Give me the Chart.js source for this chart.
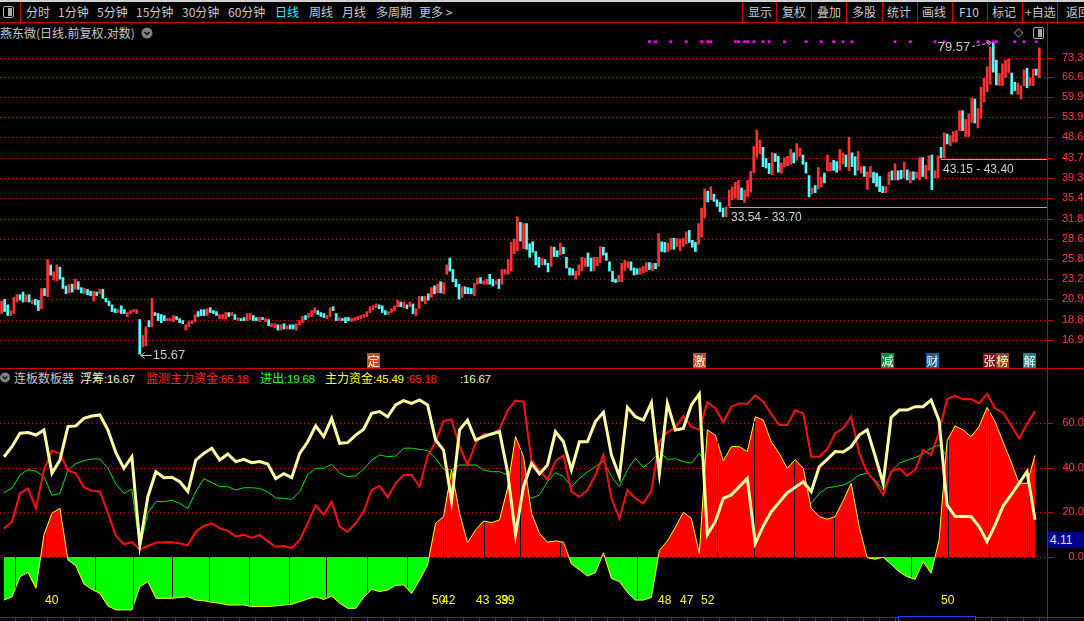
<!DOCTYPE html>
<html><head><meta charset="utf-8"><title>燕东微 日线</title>
<script src="https://cdn.jsdelivr.net/npm/chart.js@4.4.1/dist/chart.umd.min.js"></script>
<style>
html,body{margin:0;padding:0;background:#000;}
#page{position:relative;width:1084px;height:621px;overflow:hidden;background:#000;font-family:"Noto Sans CJK SC","Liberation Sans",sans-serif;font-size:12px;color:#c8c8c8;}
.t{position:absolute;white-space:nowrap;line-height:14px;}
.d{font-family:"Liberation Sans",sans-serif;font-size:11.5px;letter-spacing:-0.2px;}
.r{position:absolute;background:#c80000;}
canvas{position:absolute;left:0;}
.tag{position:absolute;top:353px;width:13px;height:15px;line-height:15px;text-align:center;color:#fff;font-size:12px;}
.num{position:absolute;top:593px;color:#ffff00;font-family:"Liberation Sans",sans-serif;font-size:12px;line-height:14px;}
</style></head><body><div id="page">

<!-- toolbar -->
<div style="position:absolute;left:0;top:0;width:1084px;height:2px;background:#d0d0d0"></div>
<div style="position:absolute;left:3px;top:6px;width:9px;height:10px;border:1px solid #a8a8a8;border-radius:2px"><div style="position:absolute;right:1px;top:1px;width:4px;height:8px;background:#a8a8a8"></div></div>
<div class="r" style="left:20px;top:2px;width:1px;height:21px"></div>
<div class="t" style="left:26px;top:5px">分时</div>
<div class="t" style="left:58px;top:5px">1分钟</div>
<div class="t" style="left:97px;top:5px">5分钟</div>
<div class="t" style="left:136px;top:5px">15分钟</div>
<div class="t" style="left:182px;top:5px">30分钟</div>
<div class="t" style="left:228px;top:5px">60分钟</div>
<div class="t" style="left:275px;top:5px;color:#3ce6ff">日线</div>
<div class="t" style="left:309px;top:5px">周线</div>
<div class="t" style="left:342px;top:5px">月线</div>
<div class="t" style="left:376px;top:5px">多周期</div>
<div class="t" style="left:419px;top:5px">更多 &gt;</div>
<div class="r" style="left:742px;top:2px;width:1px;height:21px"></div>
<div class="r" style="left:776px;top:2px;width:1px;height:21px"></div>
<div class="r" style="left:811px;top:2px;width:1px;height:21px"></div>
<div class="r" style="left:846px;top:2px;width:1px;height:21px"></div>
<div class="r" style="left:882px;top:2px;width:1px;height:21px"></div>
<div class="r" style="left:917px;top:2px;width:1px;height:21px"></div>
<div class="r" style="left:952px;top:2px;width:1px;height:21px"></div>
<div class="r" style="left:987px;top:2px;width:1px;height:21px"></div>
<div class="r" style="left:1022px;top:2px;width:1px;height:21px"></div>
<div class="r" style="left:1057px;top:2px;width:1px;height:21px"></div>
<div class="t" style="left:748px;top:5px">显示</div>
<div class="t" style="left:782px;top:5px">复权</div>
<div class="t" style="left:817px;top:5px">叠加</div>
<div class="t" style="left:852px;top:5px">多股</div>
<div class="t" style="left:887px;top:5px">统计</div>
<div class="t" style="left:922px;top:5px">画线</div>
<div class="t" style="left:959px;top:5px">F10</div>
<div class="t" style="left:992px;top:5px">标记</div>
<div class="t" style="left:1025px;top:5px">+自选</div>
<div class="t" style="left:1066px;top:5px">返回</div>
<div class="r" style="left:0;top:22px;width:1084px;height:1px"></div>

<!-- header -->
<div class="t" style="left:0;top:26px">燕东微(日线.前复权.对数)</div>
<svg style="position:absolute;left:141px;top:27px" width="12" height="12"><circle cx="6" cy="6" r="5.5" fill="#808080"/><polyline points="3.5,5 6,7.5 8.5,5" fill="none" stroke="#111" stroke-width="1.5"/></svg>
<div class="t" style="left:1014px;top:25px;color:#a8a8a8;font-family:'DejaVu Sans'">◇</div>
<div style="position:absolute;left:1033px;top:27px;width:9px;height:10px;border:1px solid #a8a8a8;border-radius:2px"><div style="position:absolute;right:1px;top:1px;width:4px;height:8px;background:#a8a8a8"></div></div>

<canvas id="cTop" width="1084" height="330" style="top:38px;width:1084px;height:330px"></canvas>

<div class="tag" style="left:367px;background:#c84a10">定</div>
<div class="tag" style="left:693px;background:#c84a10">激</div>
<div class="tag" style="left:881px;background:#0a8a3a">减</div>
<div class="tag" style="left:926px;background:#1a5fa0">财</div>
<div class="tag" style="left:983px;background:#8a1010">张</div>
<div class="tag" style="left:996px;background:#8a4a10">榜</div>
<div class="tag" style="left:1023px;background:#108a8a">解</div>

<div class="r" style="left:0;top:368px;width:1084px;height:1px"></div>

<!-- indicator legend -->
<svg style="position:absolute;left:0;top:372px" width="11" height="11"><circle cx="5" cy="5.5" r="5" fill="#808080"/><polyline points="2.8,4.5 5,6.8 7.2,4.5" fill="none" stroke="#111" stroke-width="1.4"/></svg>
<div class="t" style="left:14px;top:371px">连板数板器</div>
<div class="t" style="left:80px;top:371px;color:#f4f4c0">浮筹<span class="d">:16.67</span></div>
<div class="t" style="left:146px;top:371px;color:#ff2020">监测主力资金<span class="d">:65.18</span></div>
<div class="t" style="left:260px;top:371px;color:#20ff20">进出<span class="d">:19.68</span></div>
<div class="t" style="left:325px;top:371px;color:#ffff00">主力资金<span class="d">:45.49</span></div>
<div class="t" style="left:406px;top:371px;color:#ff2020"><span class="d">:65.18</span></div>
<div class="t" style="left:460px;top:371px;color:#f4f4c0"><span class="d">:16.67</span></div>

<canvas id="cBot" width="1084" height="232" style="top:385px;width:1084px;height:232px"></canvas>

<div class="num" style="left:45px">40</div>
<div class="num" style="left:432px">50</div>
<div class="num" style="left:442px">42</div>
<div class="num" style="left:476px">43</div>
<div class="num" style="left:495px">39</div>
<div class="num" style="left:501px">39</div>
<div class="num" style="left:658px">48</div>
<div class="num" style="left:680px">47</div>
<div class="num" style="left:701px">52</div>
<div class="num" style="left:941px">50</div>

<div style="position:absolute;left:1048px;top:532px;width:36px;height:16px;background:#00008c;color:#e0e0e0;font-family:'Liberation Sans';font-size:12px;line-height:16px;padding-left:2px">4.11</div>

<div class="r" style="left:1047px;top:23px;width:1px;height:598px"></div>
<div class="r" style="left:0;top:617px;width:1084px;height:1px"></div>
<div style="position:absolute;left:0;top:618px;width:1047px;height:3px;background:repeating-linear-gradient(90deg,transparent 0,transparent 15px,#c80000 15px,#c80000 16px)"></div>
<div style="position:absolute;left:898px;top:616px;width:76px;height:8px;border:1px solid #2a3cff;background:#000"></div>

</div>
<script>
// ---- price panel (log scale) ----
const priceTicks = [73.3, 66.6, 59.9, 53.9, 48.6, 43.7, 39.3, 35.4, 31.8, 28.6, 25.8, 23.2, 20.9, 18.8, 16.9];
const priceMin = 14.61, priceMax = 81.46;

// daily candles [open, close]
const candles = [
  [19.4,20.7],[20.9,19.6],[20.3,19.2],[19.2,19.7],[19.4,21.1],[20.6,21.4],[21.4,20.8],[21.7,20.6],[20.6,21.4],[21.4,20.6],
  [20.4,20.8],[20.9,20.3],[20.8,19.7],[19.9,22.1],[22.1,21.3],[21.2,25.7],[25.0,23.7],[23.1,24.1],[23.0,25.0],[24.7,23.2],
  [23.4,22.1],[22.4,21.5],[21.6,22.6],[22.6,21.7],[22.0,23.2],[22.9,22.0],[22.2,21.6],[21.5,22.1],[22.0,21.4],[21.8,21.3],
  [20.7,21.8],[21.7,21.3],[21.5,22.0],[22.0,21.0],[21.0,20.6],[20.7,20.2],[20.3,19.6],[19.9,19.5],[19.5,19.8],[20.2,19.4],
  [19.8,19.4],[19.1,19.5],[19.4,19.7],[19.6,19.8],[19.4,19.8],[18.8,15.7],[16.3,17.3],[16.4,18.1],[18.7,18.1],[18.1,21.0],
  [19.5,19.2],[19.4,18.7],[19.3,18.5],[19.2,18.7],[18.7,18.9],[18.7,18.9],[18.6,19.2],[19.1,18.8],[18.9,18.5],[18.7,18.4],
  [17.8,18.3],[18.1,18.6],[18.4,18.7],[18.6,19.3],[19.6,19.1],[19.8,19.2],[19.8,19.2],[19.2,19.9],[20.0,19.5],[19.7,19.4],
  [19.6,19.2],[18.9,19.3],[18.9,19.3],[18.9,19.5],[19.5,19.1],[19.2,19.5],[19.3,18.8],[18.7,19.0],[18.9,18.7],[19.0,18.7],
  [18.7,19.4],[18.8,19.4],[19.2,18.7],[19.0,18.7],[18.6,19.0],
  [19.0,18.8],[18.6,18.9],[18.8,18.2],[18.1,18.4],[18.0,18.4],[18.3,17.8],[17.8,18.3],[18.4,17.9],[17.9,18.2],[18.3,17.9],
  [18.3,17.9],[17.8,18.4],[18.3,18.7],[18.5,19.1],[19.2,18.8],[19.0,19.4],[19.1,19.7],[19.5,20.0],[19.7,19.3],[19.5,19.1],
  [19.4,19.0],[18.9,19.2],[19.1,20.0],[20.1,19.7],[19.4,18.7],[18.7,19.0],[18.9,18.7],[19.0,18.5],[19.0,18.7],[18.6,18.9],
  [18.7,19.0],[18.8,19.1],[18.9,19.2],[19.0,19.3],[19.1,19.6],[19.5,20.1],[19.8,20.2],[20.0,20.4],[20.3,19.9],[20.2,19.5],
  [19.7,19.3],[19.3,19.6],[19.5,19.9],[19.7,20.2],[20.1,20.8],[20.6,20.1],[20.0,20.6],[20.3,19.9],[20.1,20.6],[20.4,19.4],
  [19.2,19.9],[19.9,21.2],[21.2,20.7],[20.4,21.2],[21.5,20.8],[21.1,22.2],[22.4,21.5],[21.6,22.6],[22.9,21.6],[21.5,22.8],
  [23.8,25.0],[25.9,24.2],[24.4,22.9],[23.2,22.3],[22.6,20.9],[21.1,22.3],[22.3,21.5],[22.2,21.5],[22.1,21.5],[21.3,22.7],
  [22.6,23.3],[23.4,22.7],[22.6,23.0],[22.6,23.2],[23.8,22.6],[23.2,22.4],[22.6,23.0],[23.2,22.1],[22.6,24.4],[23.8,24.4],
  [23.8,25.7],[24.2,28.1],[26.5,28.6],[26.9,32.1],
  [31.2,28.3],[27.2,31.0],[31.0,27.1],[27.9,26.0],[28.2,26.7],[26.8,25.0],[26.0,24.7],[25.0,25.9],[25.7,25.0],[25.2,24.1],
  [24.8,27.5],[27.4,26.1],[26.9,26.1],[26.3,28.0],[27.4,26.5],[26.0,24.6],[24.6,23.7],[24.5,23.7],[23.2,24.2],[23.7,25.0],
  [24.2,26.0],[24.8,25.9],[26.6,24.8],[25.9,24.2],[24.3,26.0],[24.9,26.0],[25.3,27.5],[27.4,26.3],[26.6,25.6],[25.4,24.2],
  [24.2,22.9],[23.2,22.8],[22.9,23.7],[22.9,25.2],[24.3,25.6],[24.6,25.4],[25.4,24.3],[24.6,23.7],[24.5,23.8],[23.8,24.6],
  [24.0,24.8],[24.1,25.3],[25.3,24.4],[24.3,25.2],[25.2,24.5],[24.8,29.4],[28.2,26.8],[28.1,26.7],[26.8,28.0],[27.1,28.7],
  [28.7,27.1],[27.5,28.7],[26.9,28.6],[27.5,28.7],[27.9,29.7],[29.9,28.1],[28.4,27.4],[28.1,26.8],[27.8,31.0],[28.9,33.6],
  [31.9,37.1],[36.7,34.7],[35.1,37.5],[36.1,34.8],[35.1,33.9],[34.6,33.0],[33.6,32.1],[32.1,33.8],[33.9,36.9],[35.1,37.5],
  [35.4,38.4],[35.1,38.8],[37.3,35.1],[34.6,36.9],[35.6,38.8],[36.5,40.7],[40.4,46.3],[43.8,50.4],[44.6,47.9],[46.1,41.7],
  [43.5,41.4],[42.4,40.2],[40.0,44.8],[44.6,42.8],
  [44.0,40.5],[40.3,42.5],[41.7,43.7],[41.9,44.0],[42.2,45.6],[44.8,42.5],[43.1,47.0],[44.0,45.9],[44.3,42.2],[42.6,40.3],
  [39.8,35.6],[36.2,37.3],[37.8,36.4],[37.1,41.5],[37.5,39.5],[40.3,38.3],[40.8,44.3],[40.8,42.6],[43.1,40.9],[42.8,40.5],
  [40.9,45.6],[42.3,44.8],[44.3,41.7],[40.8,48.6],[44.8,41.7],[43.9,39.9],[40.9,45.1],[40.3,41.7],[41.7,39.6],[37.0,40.6],
  [39.4,41.7],[40.5,38.3],[40.3,37.6],[39.6,36.6],[37.6,36.4],[36.4,37.6],[38.0,40.5],[40.8,38.9],[38.9,42.3],[40.8,38.9],
  [40.9,39.1],[39.3,42.6],[41.0,38.9],[38.3,40.6],[40.6,38.9],[39.3,40.5],[38.9,43.7],[43.7,39.6],[39.1,42.0],[40.9,44.1],
  [44.3,37.0],[39.3,40.8],[39.3,44.1],[46.1,43.6],[43.7,49.7],[49.4,46.9],[46.5,49.0],[47.4,50.0],[47.4,50.3],[50.3,55.8],
  [55.8,50.3],[48.8,53.3],[48.8,54.9],[52.5,59.6],[59.3,52.3],[51.0,56.4],[53.6,63.0],[58.4,66.1],[61.6,70.1],[64.0,77.8],
  [79.6,68.2],[72.6,63.8],[63.6,67.7],[63.6,71.2],[66.3,72.6],[67.9,73.0],[67.9,60.8],[64.7,61.9],[60.8,64.4],[59.3,63.5],
  [63.6,69.0],[69.6,62.9],[63.6,66.3],[63.6,69.3],[69.3,67.1],[66.3,77.4]
];
const slotCount = 341;   // a few empty slots on the right

// magenta signal marks along the top
const signalIdx = [211,213,218,223,228,230,231,239,240,242,243,245,248,250,255,262,267,271,274,277,291,296,304,307,318,321,323,324,330,333,337];
const signalLevel = 79.9;

// gap lines  [start candle, price, text]
const gapStart = [237, 306];
const gapPrice = [33.70, 43.40];
const gapText = ['33.54 - 33.70', '43.15 - 43.40'];

// extreme marks
const lowIdx = 45, lowPrice = 15.67;
const highIdx = 323, highPrice = 79.57;

// ---- indicator panel ----
const indTicks = [60, 40, 20, 0];
const indMin = -26.87, indMax = 77.01;
const fuchou = [44.9,49.4,55.4,55.7,54.6,56.9,37.5,43.4,58.4,58.7,62.1,63.1,63.6,56.9,46.7,39.7,44.9,5.4,27.0,38.2,
  35.5,35.7,33.7,29.3,43.4,46.4,48.7,43.4,46.1,42.7,43.7,42.2,42.7,41.6,35.1,37.3,35.5,46.4,51.6,58.7,
  53.9,62.1,50.9,51.2,54.6,57.2,64.3,65.1,62.8,68.1,70.0,68.8,70.3,68.1,52.4,47.9,25.0,56.9,61.3,52.4,
  53.9,55.1,56.1,38.2,10.0,31.5,41.9,37.2,41.2,56.1,51.6,39.0,51.6,51.6,60.6,64.8,45.7,36.0,67.0,62.8,
  61.3,69.1,37.5,68.8,56.9,57.6,68.1,73.0,10.0,15.8,26.3,27.8,31.5,35.2,6.1,13.9,20.3,24.5,28.8,31.2,
  33.7,29.3,40.4,43.7,47.2,47.0,49.4,54.6,56.9,45.2,33.0,62.5,65.8,65.8,67.3,67.3,70.3,61.0,23.3,18.1,
  18.1,18.1,13.6,6.9,14.3,22.8,27.8,33.0,38.2,16.7];
const jiance = [12.8,15.8,28.5,30.7,21.8,39.0,47.6,46.4,38.7,37.5,31.2,29.6,29.3,19.6,9.4,5.8,6.6,3.4,4.9,6.4,
  6.6,6.6,6.1,5.2,11.3,13.9,15.1,12.8,11.8,9.1,10.0,8.5,9.9,7.0,4.6,4.9,4.0,7.6,15.1,23.1,
  19.0,24.8,13.6,11.3,15.1,20.3,30.0,31.8,26.7,33.0,36.7,36.7,31.5,45.2,51.5,60.9,61.6,49.4,41.2,50.9,
  55.1,54.6,57.2,65.5,70.0,69.6,43.4,39.0,34.5,43.0,45.4,29.3,27.0,30.0,36.7,45.7,26.3,17.3,30.0,26.3,
  24.0,29.6,51.6,55.8,57.9,63.1,58.4,56.9,69.3,66.6,60.3,67.3,68.8,68.5,72.4,69.6,64.0,59.1,59.1,65.7,
  64.3,44.9,44.9,48.2,55.4,57.6,62.8,46.4,37.9,33.7,27.8,38.2,39.7,36.4,39.0,47.9,45.7,56.0,70.7,72.2,
  70.6,70.7,68.8,73.0,66.6,64.6,59.1,53.1,59.6,65.2];
const jinchu = [28.8,30.9,36.7,39.1,38.4,36.0,27.6,28.5,39.0,41.8,43.1,43.9,43.9,39.7,32.7,28.5,30.4,3.9,19.6,24.8,
  24.8,25.4,24.0,21.8,29.3,35.1,33.3,31.5,31.5,30.0,31.0,31.0,30.7,29.1,26.4,26.3,25.7,29.3,36.9,39.7,
  39.7,41.5,37.5,36.0,36.4,39.3,43.4,45.7,44.9,45.2,48.7,48.7,48.2,47.6,44.2,39.3,39.0,41.2,41.2,41.2,
  39.0,38.2,38.2,36.7,31.5,28.2,26.3,27.8,33.7,37.8,36.0,31.5,35.2,38.1,40.4,43.0,36.0,31.5,39.0,44.2,
  40.1,43.0,47.2,43.7,44.0,42.7,42.0,46.4,40.7,34.5,35.2,36.0,36.0,36.0,34.5,34.5,33.0,31.5,30.0,28.5,
  27.0,24.0,28.5,31.0,31.5,32.2,34.0,36.7,37.5,34.5,30.0,38.2,42.0,43.4,44.5,46.1,48.7,50.1,45.0,44.0,
  44.0,43.0,42.0,42.0,40.0,38.0,35.0,30.0,27.0,19.7];
const zhuli = [-19.3,-17.8,-8.8,-6.9,-14.0,10.0,19.6,21.8,-1.3,-4.0,-12.1,-14.5,-16.3,-21.9,-23.7,-23.7,-23.7,-13.3,-11.0,-18.5,
  -18.5,-18.5,-18.1,-17.8,-19.3,-19.6,-20.3,-20.7,-21.5,-21.5,-21.5,-22.2,-22.2,-22.2,-21.9,-21.5,-21.2,-20.0,-18.8,-17.8,
  -19.0,-17.5,-20.7,-23.0,-23.0,-18.1,-14.5,-15.5,-14.8,-12.7,-12.5,-16.3,-10.3,-3.6,15.1,18.1,39.0,19.6,6.4,12.1,
  16.1,15.4,16.6,30.7,53.9,44.9,19.6,10.6,6.6,7.2,6.6,-3.1,-5.8,-8.5,-7.0,1.9,-9.6,-11.0,-15.8,-19.3,
  -19.3,-18.1,3.0,7.2,13.3,20.0,17.3,1.6,56.9,54.6,43.0,49.4,49.4,47.2,62.8,61.3,51.6,46.4,39.7,43.6,
  39.7,21.8,18.1,16.9,18.1,25.2,33.0,13.6,-0.3,-1.0,-0.1,-3.3,-6.6,-8.8,-10.0,-2.1,-7.3,7.6,52.1,58.7,
  56.9,53.9,58.4,67.0,60.6,51.5,42.7,33.0,33.0,45.5];
const indSlots = 131;
// period separators cut through the histogram (positions on the indicator x scale)
const periodMarks = [1.4, 5.1, 11.4, 16.1, 21.0, 25.7, 30.7, 35.7, 40.3, 45.4, 50.4, 54.9, 60.0, 64.6, 69.6, 79.2, 89.2, 93.9, 98.9, 103.9, 113.5, 118.1, 123.2, 128.2];

const AXIS_W = 37;

function dottedGrid(ctx, area, ys, color) {
  ctx.save();
  ctx.strokeStyle = color; ctx.lineWidth = 1; ctx.setLineDash([1, 3]);
  ys.forEach(py => { const y = Math.round(py) + 0.5; ctx.beginPath(); ctx.moveTo(area.left, y); ctx.lineTo(area.right, y); ctx.stroke(); });
  ctx.setLineDash([]); ctx.strokeStyle = '#d00000';
  ys.forEach(py => { const y = Math.round(py) + 0.5; ctx.beginPath(); ctx.moveTo(area.right, y); ctx.lineTo(area.right + 6, y); ctx.stroke(); });
  ctx.restore();
}

const priceDeco = {
  id: 'priceDeco',
  beforeDatasetsDraw(chart) {
    const { ctx, chartArea: a, scales: { x, y } } = chart;
    dottedGrid(ctx, a, priceTicks.map(v => y.getPixelForValue(v)), '#b00000');
    ctx.save();
    ctx.fillStyle = '#ff3c3c'; ctx.font = '11px "Liberation Sans"'; ctx.textBaseline = 'middle'; ctx.textAlign = 'left';
    priceTicks.forEach(v => ctx.fillText(v.toFixed(1), a.right + 15, y.getPixelForValue(v)));
    // gap lines
    ctx.strokeStyle = '#a8a8a8'; ctx.fillStyle = '#d0d0d0'; ctx.font = '12px "Liberation Sans"';
    gapStart.forEach((s, k) => {
      const px = Math.round(x.getPixelForValue(s)), py = Math.round(y.getPixelForValue(gapPrice[k])) + 0.5;
      ctx.beginPath(); ctx.moveTo(px, py); ctx.lineTo(a.right, py); ctx.stroke();
      ctx.fillText(gapText[k], px + 2, py + 10);
    });
    ctx.restore();
  },
  afterDatasetsDraw(chart) {
    const { ctx, scales: { x, y } } = chart;
    ctx.save();
    ctx.strokeStyle = '#c8c8c8'; ctx.fillStyle = '#c8c8c8'; ctx.lineWidth = 1;
    // low
    let tx = x.getPixelForValue(lowIdx) + 1, ty = Math.round(y.getPixelForValue(lowPrice)) + 0.5;
    ctx.beginPath(); ctx.moveTo(tx, ty); ctx.lineTo(tx + 11, ty);
    ctx.moveTo(tx, ty); ctx.lineTo(tx + 4, ty - 3); ctx.moveTo(tx, ty); ctx.lineTo(tx + 4, ty + 3); ctx.stroke();
    ctx.font = '13px "Liberation Sans"'; ctx.textBaseline = 'middle'; ctx.textAlign = 'left';
    ctx.fillText(lowPrice.toFixed(2), tx + 12, ty);
    // high
    tx = x.getPixelForValue(highIdx) - 1; ty = y.getPixelForValue(highPrice);
    ctx.setLineDash([3, 2]);
    ctx.beginPath(); ctx.moveTo(tx - 20, ty + 4); ctx.lineTo(tx - 1, ty); ctx.stroke();
    ctx.setLineDash([]);
    ctx.beginPath(); ctx.moveTo(tx - 1, ty); ctx.lineTo(tx - 5, ty - 2); ctx.moveTo(tx - 1, ty); ctx.lineTo(tx - 4, ty + 3); ctx.stroke();
    ctx.textAlign = 'right';
    ctx.fillText(highPrice.toFixed(2), tx - 22, ty + 5);
    ctx.restore();
  }
};

const slotLabels = Array.from({ length: slotCount }, (_, i) => i);
const candleColors = candles.map(([o, c]) => c >= o ? '#ff3232' : '#54fcfc');
const signalData = slotLabels.map(i => signalIdx.includes(i) ? signalLevel : null);

new Chart(document.getElementById('cTop'), {
  type: 'bar',
  data: {
    labels: slotLabels,
    datasets: [
      { type: 'line', data: signalData, showLine: false, pointStyle: 'rect', pointRadius: 1.9,
        pointBackgroundColor: '#ff00ff', pointBorderWidth: 0, order: 0 },
      { type: 'bar', data: candles, backgroundColor: candleColors, barThickness: 2, minBarLength: 1, order: 1 }
    ]
  },
  options: {
    responsive: false, animation: false, events: [],
    layout: { autoPadding: false, padding: { left: 0, right: AXIS_W, top: 0, bottom: 0 } },
    plugins: { legend: { display: false }, tooltip: { enabled: false } },
    scales: {
      x: { type: 'category', display: false, offset: true },
      y: { type: 'logarithmic', display: false, min: priceMin, max: priceMax }
    }
  },
  plugins: [priceDeco]
});

function histAt(v) {
  const i = Math.floor(v), f = v - i;
  const a = zhuli[i], b = zhuli[Math.min(i + 1, zhuli.length - 1)];
  return a + (b - a) * f;
}

const indDeco = {
  id: 'indDeco',
  beforeDatasetsDraw(chart) {
    const { ctx, chartArea: a, scales: { y } } = chart;
    dottedGrid(ctx, a, indTicks.map(v => y.getPixelForValue(v)), '#b00000');
    ctx.save();
    ctx.fillStyle = '#ff3c3c'; ctx.font = '11px "Liberation Sans"'; ctx.textBaseline = 'middle'; ctx.textAlign = 'right';
    indTicks.forEach(v => ctx.fillText(v.toFixed(2), 1090, y.getPixelForValue(v)));
    ctx.restore();
  },
  afterDatasetDraw(chart, args) {
    if (args.index !== 2) return;
    const { ctx, scales: { x, y } } = chart;
    ctx.save();
    ctx.strokeStyle = '#000'; ctx.lineWidth = 1;
    const y0 = y.getPixelForValue(0);
    periodMarks.forEach(v => {
      const px = Math.round(x.getPixelForValue(v)) + 0.5;
      const yv = y.getPixelForValue(histAt(v));
      ctx.beginPath(); ctx.moveTo(px, y0); ctx.lineTo(px, yv + (yv < y0 ? 1 : -1)); ctx.stroke();
    });
    ctx.restore();
  }
};

new Chart(document.getElementById('cBot'), {
  type: 'line',
  data: {
    labels: Array.from({ length: indSlots }, (_, i) => i),
    datasets: [
      { label: '浮筹', data: fuchou, borderColor: '#ffffa0', borderWidth: 3, order: 0 },
      { label: '监测主力资金', data: jiance, borderColor: '#ff1010', borderWidth: 2, order: 1 },
      { label: '主力资金', data: zhuli, borderColor: '#ffff00', borderWidth: 1, order: 2,
        fill: { target: 'origin', above: '#ff0000', below: '#00ff00' } },
      { label: '进出', data: jinchu, borderColor: '#00e000', borderWidth: 1, order: 3 }
    ]
  },
  options: {
    responsive: false, animation: false, events: [],
    layout: { autoPadding: false, padding: { left: 0, right: AXIS_W, top: 0, bottom: 0 } },
    elements: { point: { radius: 0 }, line: { tension: 0 } },
    plugins: { legend: { display: false }, tooltip: { enabled: false } },
    scales: {
      x: { type: 'category', display: false, offset: true },
      y: { display: false, min: indMin, max: indMax }
    }
  },
  plugins: [indDeco]
});
</script>
</body></html>
